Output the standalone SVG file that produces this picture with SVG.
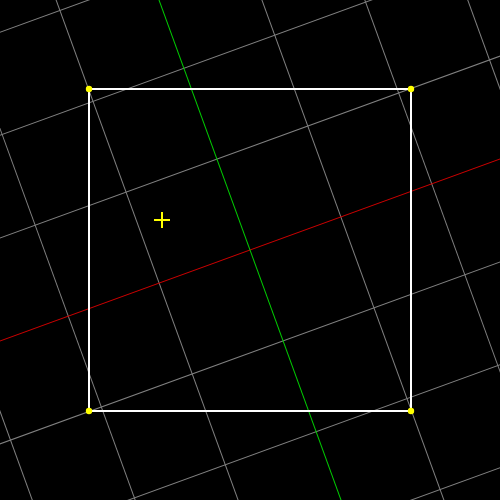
<svg xmlns="http://www.w3.org/2000/svg" width="500" height="500" viewBox="0 0 500 500">
<style>
.g{stroke:#808080;stroke-width:1;fill:none}
.sq{stroke:#ffffff;stroke-width:2;fill:none}
.dot{fill:#ffff00}
.cross{stroke:#ffff00;stroke-width:2}
</style>
<rect width="500" height="500" fill="#000"/>
<g id="grid" transform="translate(250,250) rotate(-20)">
<g class="g">
<line x1="-483.5" y1="-800" x2="-483.5" y2="800"/>
<line x1="-386.8" y1="-800" x2="-386.8" y2="800"/>
<line x1="-290.1" y1="-800" x2="-290.1" y2="800"/>
<line x1="-193.4" y1="-800" x2="-193.4" y2="800"/>
<line x1="-96.7" y1="-800" x2="-96.7" y2="800"/>
<line x1="96.7" y1="-800" x2="96.7" y2="800"/>
<line x1="193.4" y1="-800" x2="193.4" y2="800"/>
<line x1="290.1" y1="-800" x2="290.1" y2="800"/>
<line x1="386.8" y1="-800" x2="386.8" y2="800"/>
<line x1="483.5" y1="-800" x2="483.5" y2="800"/>
<line y1="-483.5" x1="-800" y2="-483.5" x2="800"/>
<line y1="-386.8" x1="-800" y2="-386.8" x2="800"/>
<line y1="-290.1" x1="-800" y2="-290.1" x2="800"/>
<line y1="-193.4" x1="-800" y2="-193.4" x2="800"/>
<line y1="-96.7" x1="-800" y2="-96.7" x2="800"/>
<line y1="96.7" x1="-800" y2="96.7" x2="800"/>
<line y1="193.4" x1="-800" y2="193.4" x2="800"/>
<line y1="290.1" x1="-800" y2="290.1" x2="800"/>
<line y1="386.8" x1="-800" y2="386.8" x2="800"/>
<line y1="483.5" x1="-800" y2="483.5" x2="800"/>
</g>
<line id="x-axis" x1="-800" y1="0" x2="800" y2="0" stroke="#cc0000" stroke-width="1"/>
<line id="y-axis" x1="0" y1="-800" x2="0" y2="800" stroke="#00cc00" stroke-width="1"/>
</g>
<g id="square">
<rect class="sq" x="89" y="89" width="322" height="322"/>
<circle class="dot" cx="89" cy="89" r="3.2"/>
<circle class="dot" cx="411" cy="89" r="3.2"/>
<circle class="dot" cx="89" cy="411" r="3.2"/>
<circle class="dot" cx="411" cy="411" r="3.2"/>
</g>
<g id="center-mark" class="cross">
<line x1="154" y1="220" x2="170" y2="220"/>
<line x1="162" y1="212" x2="162" y2="228"/>
</g>
</svg>
